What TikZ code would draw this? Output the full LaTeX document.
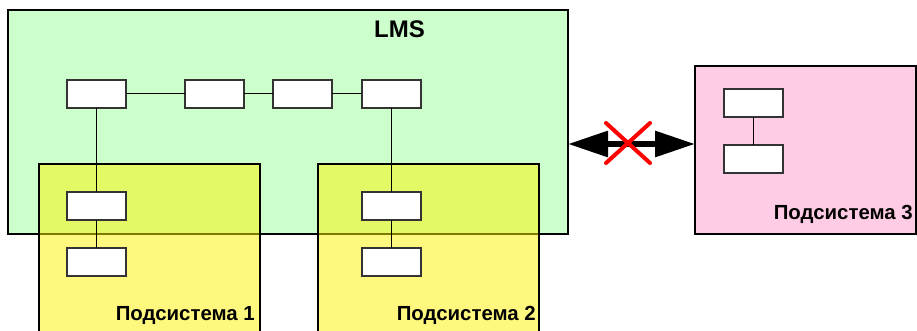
\documentclass[tikz,border=0pt]{standalone}
\usepackage{fontspec}
\setmainfont{Liberation Sans}
\usetikzlibrary{arrows.meta,calc}
\definecolor{lmsgreen}{HTML}{CCFFCC}
\definecolor{subpink}{HTML}{FFCCE5}
\definecolor{boxgray}{HTML}{333333}
\begin{document}
\begin{tikzpicture}[x=1pt,y=-1pt,
  container/.style={draw=black, line width=1.6pt, anchor=north west, inner sep=0pt, outer sep=0pt},
  unit/.style={draw=boxgray, fill=white, line width=1.3pt, minimum width=59pt, minimum height=28pt, inner sep=0pt, outer sep=0pt, anchor=north west},
  link/.style={draw=black, line width=1pt},
  lbl/.style={font=\bfseries\fontsize{20.4}{23}\selectfont, inner sep=0pt}
]
\clip (0,0) rectangle (917,331);
\fill[white] (0,0) rectangle (917,331);
% containers
\node[container, fill=lmsgreen, minimum width=560pt, minimum height=224pt] (lms) at (8,10) {};
\node[container, fill=yellow, fill opacity=0.5, minimum width=221pt, minimum height=190pt] (sub1) at (39,164) {};
\node[container, fill=yellow, fill opacity=0.5, minimum width=221pt, minimum height=190pt] (sub2) at (318,164) {};
\node[container, line width=1.3pt, fill=subpink, minimum width=221pt, minimum height=168pt] (sub3) at (695,66) {};
% labels
\node[font=\bfseries\fontsize{24}{28}\selectfont, inner sep=0pt, anchor=base] (lmslbl) at (399.5,38) {LMS};
\node[lbl, anchor=base east] (l1) at (255,320) {Подсистема 1};
\node[lbl, anchor=base east] (l2) at (536,320) {Подсистема 2};
\node[lbl, anchor=base east] (l3) at (913,219) {Подсистема 3};
% units
\node[unit] (a) at (67,80) {};
\node[unit] (b) at (185,80) {};
\node[unit] (c) at (273,80) {};
\node[unit] (d) at (362,80) {};
\node[unit] (s1a) at (67,192) {};
\node[unit] (s1b) at (67,248) {};
\node[unit] (s2a) at (362,192) {};
\node[unit] (s2b) at (362,248) {};
\node[unit] (s3a) at (724,89) {};
\node[unit] (s3b) at (724,145) {};
% links
\draw[link] (a) -- (b);
\draw[link] (b) -- (c);
\draw[link] (c) -- (d);
\draw[link] (a) -- (s1a);
\draw[link] (s1a) -- (s1b);
\draw[link] (d) -- (s2a);
\draw[link] (s2a) -- (s2b);
\draw[link] (s3a) -- (s3b);
% blocked double arrow
\coordinate (aL) at (lms.east |- 0,144);
\coordinate (aR) at (sub3.west |- 0,144);
\draw[line width=6pt, {Triangle[length=40pt 0 0,width=25pt 0 0]}-{Triangle[length=40pt 0 0,width=25pt 0 0]}] (aL) -- (aR);
\coordinate (xc) at (628,143);
\draw[red, line width=4pt, line cap=round] ($(xc)+(-22,-20)$) -- ($(xc)+(22,20)$);
\draw[red, line width=4pt, line cap=round] ($(xc)+(-22,20)$) -- ($(xc)+(22,-20)$);
\end{tikzpicture}
\end{document}
